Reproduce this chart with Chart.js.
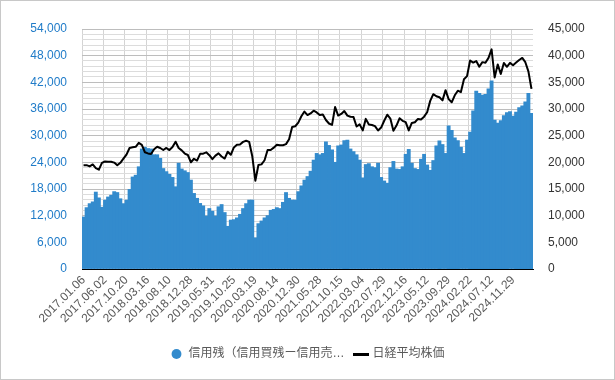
<!DOCTYPE html>
<html><head><meta charset="utf-8">
<script src="https://cdn.jsdelivr.net/npm/chart.js@4.4.0/dist/chart.umd.min.js"></script>
<style>
html,body{margin:0;padding:0;background:#fff;}
#wrap{position:absolute;left:0;top:0;width:615px;height:380px;box-sizing:border-box;border:1px solid #c8c8c8;background:#fff;}
canvas{display:block;}
</style></head><body>
<div id="wrap"><canvas id="c" width="613" height="378"></canvas></div>
<script>
// x-axis tick labels (one every 7 categories; each category ≈ 3 weeks)
const tickLabels = ['2017.01.06','2017.06.02','2017.10.20','2018.03.16','2018.08.10','2018.12.28','2019.05.31','2019.10.25','2020.03.19','2020.08.14','2020.12.30','2021.05.28','2021.10.15','2022.03.04','2022.07.29','2022.12.16','2023.05.12','2023.09.29','2024.02.22','2024.07.12','2024.11.29'];
const LABEL_EVERY = 7;

// 信用残（信用買残ー信用売残） left axis
const creditBalance = [
11700,13800,14700,15100,17300,16000,13900,
15500,16200,16600,17400,17200,15800,14700,
15500,17900,20700,21100,23000,27000,27400,
27100,27000,25700,25700,24900,22600,21900,
21300,20600,18500,23800,22500,22100,21700,
20000,17000,15900,14750,14200,11900,13600,
13000,11900,14000,14500,12700,9600,11000,
11100,11500,12300,13600,14700,15500,15500,
7000,10200,10800,11500,12000,13200,13400,
13800,13600,15000,17200,15900,15500,15500,
17400,18700,20000,20800,22000,24500,26000,
25700,26000,28600,27800,26800,24000,27700,
27900,28900,29000,27000,26400,25700,24500,
20500,23500,23700,23000,22800,23800,20600,
19800,19300,22800,24200,22500,22400,23000,
25800,26900,23800,22600,22400,24700,25800,
23400,22200,24400,27700,28800,28000,26000,
32200,31200,29500,28900,27400,26000,29000,
30800,35600,40000,39500,39100,39300,40500,
42300,33500,32800,33400,34500,35200,35400,
34400,35300,36300,36700,37600,39500,35000];

// 日経平均株価 right axis
const nikkei = [
19450,19467,19235,19605,18909,18620,19883,
20177,20132,20118,19952,19452,19909,20690,
21457,22681,22819,22902,23653,23274,21892,
21676,21568,22467,22930,22694,22304,22697,
22298,22865,23869,22694,22243,21646,21374,
20014,20666,20333,21602,21627,21870,21345,
20601,21259,21686,21087,20711,21988,21410,
22800,23303,23354,23837,24041,23828,21143,
16552,19498,19619,20388,22305,22306,22751,
23289,23205,23204,23410,24325,26644,26763,
27444,28631,29520,28864,29176,29683,29357,
28860,28964,27940,27283,27013,30381,28771,
29068,29611,28751,28545,28478,26717,27122,
25985,28149,27093,27003,26781,25963,26517,
27801,28930,28214,25937,26890,28263,27777,
27527,25974,27383,27513,28144,28041,28564,
29388,31524,32781,32391,32193,31624,33533,
31857,31259,32568,33431,33169,35577,36158,
39098,38707,38992,37934,38787,38683,39583,
41190,35909,38364,36581,38635,37913,38642,
38208,38701,39190,39572,38776,37053,33780];

const seriesNames = ['信用残（信用買残ー信用売…', '日経平均株価'];

const categories = creditBalance.map((_, i) => i % LABEL_EVERY === 0 ? tickLabels[i / LABEL_EVERY] : '');

// legend marker for the line series
const lineMarker = document.createElement('canvas');
lineMarker.width = 16; lineMarker.height = 3;
(function(){ const g = lineMarker.getContext('2d'); g.fillStyle = '#000'; g.fillRect(0,0,16,3); })();

const FONT = "'Liberation Sans', Arial, 'Noto Sans CJK JP', sans-serif";
const fmt = v => Number(v).toLocaleString('en-US');

new Chart(document.getElementById('c'), {
  type: 'bar',
  data: {
    labels: categories,
    datasets: [
      { type: 'bar', label: seriesNames[0], data: creditBalance, yAxisID: 'y',
        backgroundColor: '#338bcd', borderWidth: 0, inflateAmount: 0.4,
        barPercentage: 1, categoryPercentage: 1, order: 2, pointStyle: 'circle' },
      { type: 'line', label: seriesNames[1], data: nikkei, yAxisID: 'y1',
        borderColor: '#000', backgroundColor: '#000', borderWidth: 2,
        pointRadius: 0, tension: 0, order: 1, pointStyle: lineMarker,
        borderJoinStyle: 'round' }
    ]
  },
  options: {
    responsive: false, animation: false, devicePixelRatio: 1,
    layout: { padding: { top: 28, bottom: 9, left: 0, right: 0 } },
    plugins: {
      legend: {
        position: 'bottom',
        labels: {
          usePointStyle: true, boxHeight: 7, padding: 10, color: '#595959',
          font: { size: 12, family: FONT },
          sort: (a, b) => a.datasetIndex - b.datasetIndex
        }
      },
      tooltip: { enabled: false }
    },
    scales: {
      x: {
        offset: true,
        grid: {
          offset: true, drawTicks: false,
          color: c => (c.index % LABEL_EVERY === 0 && c.index < creditBalance.length) ? '#d4d4d4' : 'rgba(0,0,0,0)'
        },
        border: { display: true, color: '#000', width: 1, z: 1 },
        ticks: {
          autoSkip: false, minRotation: 45, maxRotation: 45, padding: 4,
          color: '#595959', font: { size: 12, family: FONT },
          callback: (v, i) => categories[i]
        },
        afterFit: s => { s.height = 69; }
      },
      y: {
        position: 'left', min: 0, max: 54000,
        ticks: {
          stepSize: 1200, autoSkip: false, padding: 15, color: '#1f7bc8',
          font: { size: 12, family: FONT },
          callback: v => (v % 6000 === 0 ? fmt(v) : '')
        },
        grid: { drawTicks: false, color: c => (c.tick && c.tick.value % 6000 === 0) ? '#bdbdbd' : '#dcdcdc' },
        border: { display: false },
        afterFit: s => { s.width = 81; }
      },
      y1: {
        position: 'right', min: 0, max: 45000,
        ticks: { stepSize: 5000, padding: 15, color: '#333', font: { size: 12, family: FONT }, callback: v => fmt(v) },
        grid: { display: false, drawTicks: false },
        border: { display: false },
        afterFit: s => { s.width = 81; }
      }
    }
  }
});
</script>
</body></html>
